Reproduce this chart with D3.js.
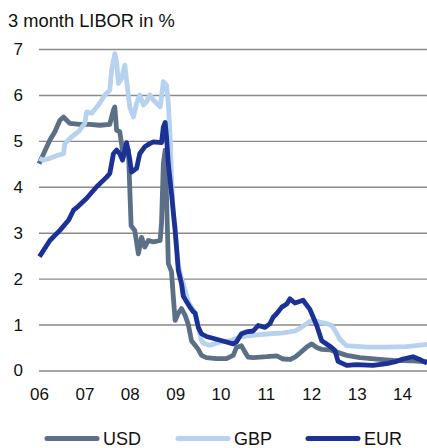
<!DOCTYPE html>
<html>
<head>
<meta charset="utf-8">
<script src="https://cdn.jsdelivr.net/npm/d3@7"></script>
<style>
  html, body { margin: 0; padding: 0; background: #fff; }
  svg { display: block; font-family: Arial, "Liberation Sans", sans-serif; }
</style>
</head>
<body>
<svg id="chart" width="427" height="448"></svg>
<script>
// ---- data (time in years since Jan 2006, value in %) ----
const title = "3 month LIBOR in %";
const yearTicks = [2006, 2007, 2008, 2009, 2010, 2011, 2012, 2013, 2014];
const yearLabels = ["06", "07", "08", "09", "10", "11", "12", "13", "14"];
const valueTicks = [0, 1, 2, 3, 4, 5, 6, 7];
const seriesNames = ["USD", "GBP", "EUR"];
const seriesColors = ["#5b7086", "#b6d2ef", "#1b3196"];

const usdT = [0.00,0.24,0.35,0.46,0.54,0.61,0.68,0.90,1.12,1.34,1.56,1.64,1.67,1.71,1.78,1.86,1.93,1.97,2.03,2.11,2.19,2.26,2.33,2.41,2.52,2.67,2.70,2.74,2.78,2.81,2.85,2.92,2.96,3.00,3.07,3.14,3.22,3.29,3.36,3.44,3.51,3.58,3.69,3.91,4.13,4.28,4.35,4.46,4.54,4.61,4.72,5.02,5.24,5.38,5.53,5.64,5.75,5.90,6.01,6.12,6.23,6.41,6.56,6.78,7.07,7.44,7.80,8.24,8.55];
const usdV = [4.50,5.02,5.20,5.45,5.52,5.45,5.38,5.36,5.36,5.34,5.36,5.67,5.74,5.23,5.20,4.65,4.88,4.80,3.15,3.05,2.54,2.90,2.69,2.83,2.80,2.83,3.20,4.50,4.80,3.78,2.33,2.15,1.60,1.09,1.25,1.35,1.20,1.00,0.65,0.55,0.46,0.33,0.28,0.26,0.26,0.33,0.50,0.54,0.40,0.29,0.28,0.30,0.32,0.25,0.24,0.29,0.38,0.51,0.58,0.50,0.46,0.45,0.40,0.33,0.28,0.25,0.22,0.21,0.19];

const gbpT = [0.01,0.09,0.24,0.43,0.54,0.57,0.72,0.87,1.01,1.05,1.16,1.31,1.45,1.56,1.60,1.67,1.71,1.75,1.82,1.89,1.93,2.00,2.08,2.15,2.22,2.30,2.37,2.44,2.52,2.63,2.67,2.74,2.81,2.85,2.89,2.92,2.96,3.00,3.07,3.14,3.22,3.29,3.36,3.44,3.51,3.58,3.62,3.69,3.77,3.99,4.21,4.43,4.65,4.87,5.09,5.38,5.53,5.64,5.75,5.97,6.08,6.23,6.34,6.45,6.52,6.63,6.78,7.22,7.66,8.10,8.55];
const gbpV = [4.62,4.58,4.62,4.69,4.72,4.94,5.09,5.20,5.38,5.63,5.60,5.78,6.00,6.10,6.54,6.90,6.72,6.25,6.36,6.65,6.32,5.74,5.52,5.81,6.00,5.78,5.85,6.00,5.89,5.78,5.74,6.29,6.21,5.81,5.09,4.20,3.40,3.10,2.30,2.00,1.75,1.50,1.38,1.25,0.95,0.65,0.60,0.57,0.55,0.62,0.65,0.73,0.76,0.78,0.80,0.82,0.84,0.86,0.92,1.07,1.09,1.04,1.02,0.98,0.88,0.68,0.54,0.51,0.51,0.52,0.57];

const eurT = [0.01,0.24,0.46,0.65,0.76,0.87,1.05,1.27,1.49,1.56,1.64,1.71,1.78,1.84,1.93,2.00,2.04,2.15,2.22,2.33,2.44,2.52,2.70,2.74,2.78,2.81,2.85,2.92,3.00,3.07,3.14,3.18,3.25,3.33,3.40,3.44,3.51,3.58,3.69,3.91,4.13,4.28,4.35,4.46,4.57,4.72,4.83,4.98,5.09,5.16,5.24,5.35,5.46,5.53,5.64,5.82,5.97,6.12,6.23,6.41,6.52,6.59,6.78,7.00,7.36,7.66,7.88,8.02,8.24,8.39,8.55];
const eurV = [2.48,2.83,3.05,3.27,3.49,3.58,3.75,4.00,4.21,4.29,4.72,4.80,4.72,4.58,4.96,4.60,4.32,4.40,4.72,4.87,4.94,4.98,4.96,5.30,5.40,5.09,4.50,3.85,3.05,2.18,1.89,1.62,1.50,1.37,1.28,1.25,0.94,0.80,0.74,0.68,0.62,0.58,0.62,0.80,0.84,0.86,0.98,0.94,1.02,1.16,1.24,1.38,1.45,1.56,1.47,1.53,1.33,0.98,0.65,0.53,0.44,0.20,0.11,0.13,0.11,0.15,0.20,0.25,0.30,0.24,0.16];

const seriesT = [usdT, gbpT, eurT];
const seriesV = [usdV, gbpV, eurV];

// ---- chart ----
const svg = d3.select("#chart");
const plotLeft = 39, plotRight = 427, plotTop = 49, plotBottom = 370.5;

const x = d3.scaleLinear().domain([2006, 2014.55]).range([plotLeft, plotRight]);
const y = d3.scaleLinear().domain([0, 7]).range([plotBottom, plotTop]);

svg.append("text")
  .attr("x", 8).attr("y", 27)
  .attr("font-size", 18.3).attr("fill", "#111")
  .text(title);

// gridlines
const yAxis = d3.axisLeft(y).tickValues(valueTicks).tickSize(-(plotRight - plotLeft)).tickPadding(16).tickFormat(d3.format("d"));
const gy = svg.append("g").attr("transform", `translate(${plotLeft},0)`).call(yAxis);
gy.select(".domain").remove();
gy.selectAll(".tick line").attr("stroke", "#8a8a8a").attr("stroke-width", 1.4);
gy.selectAll(".tick text").attr("font-size", 17).attr("fill", "#111")
  .attr("font-family", "Arial, 'Liberation Sans', sans-serif");

// x axis labels
const xAxis = d3.axisBottom(x).tickValues(yearTicks).tickSize(0).tickPadding(17)
  .tickFormat((d, i) => yearLabels[i]);
const gx = svg.append("g").attr("transform", `translate(0,${plotBottom})`).call(xAxis);
gx.select(".domain").remove();
gx.selectAll(".tick text").attr("font-size", 17).attr("fill", "#111")
  .attr("font-family", "Arial, 'Liberation Sans', sans-serif");

// lines
const line = d3.line().x(d => x(2006 + d[0])).y(d => y(d[1])).curve(d3.curveLinear);
seriesNames.forEach((name, k) => {
  const pts = seriesT[k].map((t, i) => [t, seriesV[k][i]]);
  svg.append("path")
    .datum(pts)
    .attr("d", line)
    .attr("fill", "none")
    .attr("stroke", seriesColors[k])
    .attr("stroke-width", 4.8)
    .attr("stroke-linejoin", "round")
    .attr("stroke-linecap", "butt");
});

// legend
const legendX = [45, 176, 306];
const legend = svg.append("g");
seriesNames.forEach((name, k) => {
  legend.append("line")
    .attr("x1", legendX[k] + 2).attr("x2", legendX[k] + 52)
    .attr("y1", 438.5).attr("y2", 438.5)
    .attr("stroke", seriesColors[k]).attr("stroke-width", 5)
    .attr("stroke-linecap", "round");
  legend.append("text")
    .attr("x", legendX[k] + 58).attr("y", 445)
    .attr("font-size", 18).attr("fill", "#111")
    .text(name);
});
</script>
</body>
</html>
